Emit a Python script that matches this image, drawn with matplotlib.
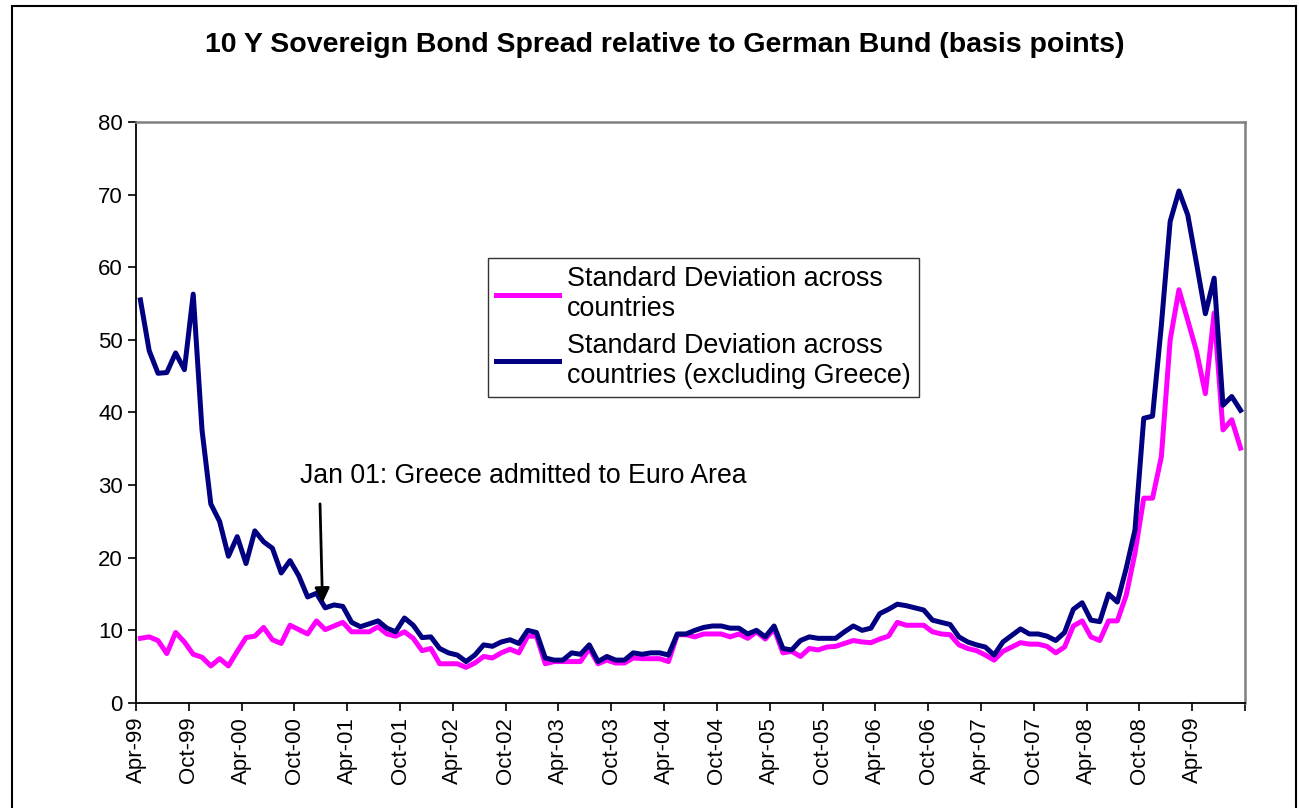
import numpy as np
import pandas as pd
import matplotlib
matplotlib.use("Agg")
import matplotlib.pyplot as plt
from matplotlib.patches import Rectangle

plt.rcParams['font.family'] = ['Liberation Sans', 'DejaVu Sans']

# monthly observations, Apr-1999 .. Sep-2009
months = pd.date_range('1999-04-01', periods=126, freq='MS')

sd_all = [
    8.9, 9.1, 8.6, 6.8, 9.7, 8.4, 6.7, 6.3, 5.1, 6.1, 5.1, 7.1,
    9.0, 9.2, 10.4, 8.7, 8.2, 10.7, 10.1, 9.5, 11.3, 10.1, 10.6, 11.1,
    9.8, 9.8, 9.8, 10.5, 9.5, 9.2, 9.8, 8.9, 7.2, 7.5, 5.4, 5.4,
    5.4, 4.9, 5.5, 6.4, 6.2, 6.9, 7.4, 6.9, 9.2, 9.2, 5.4, 5.7,
    5.7, 5.7, 5.7, 7.5, 5.4, 5.9, 5.5, 5.5, 6.2, 6.1, 6.1, 6.1,
    5.7, 9.4, 9.4, 9.1, 9.5, 9.5, 9.5, 9.1, 9.5, 8.9, 9.8, 8.8,
    10.2, 6.9, 7.1, 6.4, 7.5, 7.3, 7.7, 7.8, 8.2, 8.6, 8.4, 8.3,
    8.8, 9.2, 11.1, 10.7, 10.7, 10.7, 9.8, 9.5, 9.4, 8.0, 7.5, 7.2,
    6.6, 5.9, 7.1, 7.7, 8.3, 8.1, 8.1, 7.8, 6.9, 7.7, 10.6, 11.3,
    9.1, 8.6, 11.3, 11.3, 14.8, 20.6, 28.2, 28.2, 33.9, 50.0, 56.9, 52.7,
    48.4, 42.6, 53.7, 37.6, 39.0, 35.1,
]

sd_ex_greece = [
    55.5, 48.5, 45.4, 45.5, 48.2, 45.9, 56.3, 37.6, 27.4, 25.0, 20.2, 22.9,
    19.2, 23.7, 22.2, 21.3, 17.9, 19.6, 17.5, 14.6, 15.1, 13.1, 13.5, 13.3,
    11.1, 10.5, 10.9, 11.3, 10.3, 9.8, 11.7, 10.7, 9.0, 9.1, 7.5, 6.9,
    6.6, 5.7, 6.6, 8.0, 7.8, 8.4, 8.7, 8.2, 10.0, 9.7, 6.2, 5.9,
    5.9, 6.9, 6.7, 8.0, 5.7, 6.4, 5.9, 5.9, 6.9, 6.7, 6.9, 6.9,
    6.6, 9.5, 9.5, 10.0, 10.4, 10.6, 10.6, 10.3, 10.3, 9.5, 10.0, 9.1,
    10.6, 7.5, 7.3, 8.6, 9.1, 8.9, 8.9, 8.9, 9.8, 10.6, 10.0, 10.3,
    12.3, 12.9, 13.6, 13.4, 13.1, 12.8, 11.4, 11.1, 10.8, 9.1, 8.4, 8.0,
    7.7, 6.6, 8.4, 9.3, 10.2, 9.5, 9.5, 9.2, 8.6, 9.7, 12.9, 13.8,
    11.4, 11.2, 15.0, 13.9, 18.5, 23.8, 39.2, 39.5, 52.0, 66.3, 70.5, 67.2,
    60.5, 53.6, 58.5, 41.0, 42.2, 40.3,
]

tick_labels = ['Apr-99', 'Oct-99', 'Apr-00', 'Oct-00', 'Apr-01', 'Oct-01',
               'Apr-02', 'Oct-02', 'Apr-03', 'Oct-03', 'Apr-04', 'Oct-04',
               'Apr-05', 'Oct-05', 'Apr-06', 'Oct-06', 'Apr-07', 'Oct-07',
               'Apr-08', 'Oct-08', 'Apr-09', '']

# points sit in the middle of each month slot
x = np.arange(len(months)) + 0.5

fig = plt.figure(figsize=(12.99, 8.08), dpi=100)
ax = fig.add_axes([0.1047, 0.130, 0.8537, 0.719])

ax.plot(x, sd_all, color='#FF00FF', lw=3.6,
        label='Standard Deviation across\ncountries')
ax.plot(x, sd_ex_greece, color='#000080', lw=3.6,
        label='Standard Deviation across\ncountries (excluding Greece)')

ax.set_xlim(0, len(months))
ax.set_ylim(0, 80)
ax.set_yticks(np.arange(0, 81, 10))
ax.set_xticks(np.arange(0, len(months) + 1, 6))
ax.set_xticklabels(tick_labels, rotation=90)
ax.tick_params(axis='both', direction='out', length=6, width=1.2,
               labelsize=16, colors='black')
ax.tick_params(axis='x', pad=4)

for side in ['left', 'bottom']:
    ax.spines[side].set_color('black')
    ax.spines[side].set_linewidth(1.3)
for side in ['top', 'right']:
    ax.spines[side].set_color('#808080')
    ax.spines[side].set_linewidth(1.8)

fig.text(0.512, 1 - 45 / 808,
         '10 Y Sovereign Bond Spread relative to German Bund (basis points)',
         fontsize=20.5, fontweight='bold', ha='center', va='center')

leg = ax.legend(loc='upper left', bbox_to_anchor=(0.3174, 0.766),
                borderaxespad=0, fontsize=19.4, frameon=True, fancybox=False,
                edgecolor='black', handlelength=2.35, handletextpad=0.28,
                labelspacing=0.4, borderpad=0.3)
leg.get_frame().set_linewidth(1.0)

# euro entry of Greece
ax.annotate('', xy=(21.2, 13.4), xytext=(20.9, 27.8),
            arrowprops=dict(arrowstyle='-|>', color='black', lw=2,
                            mutation_scale=22))
ax.text(18.6, 31.3, 'Jan 01: Greece admitted to Euro Area',
        fontsize=19.2, va='center', ha='left')

# chart frame
fig.patches.append(Rectangle((12 / 1299, -0.02), (1296 - 12) / 1299,
                             1.02 - 6 / 808, transform=fig.transFigure,
                             fill=False, edgecolor='black', lw=1.5))

fig.savefig('out.png', dpi=100)
